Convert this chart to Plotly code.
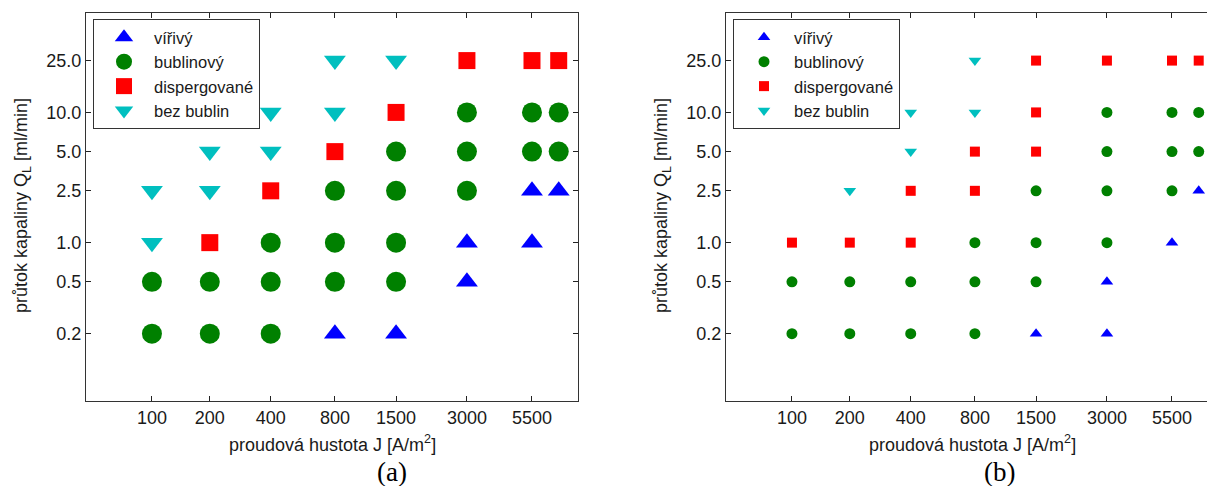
import numpy as np
import plotly.graph_objects as go

# ---------------- data ----------------
J_TICKS = [100, 200, 400, 800, 1500, 3000, 5500]
J_TICK_TEXT = ["100", "200", "400", "800", "1500", "3000", "5500"]
Q_TICKS = [0.2, 0.5, 1.0, 2.5, 5.0, 10.0, 25.0]
Q_TICK_TEXT = ["0.2", "0.5", "1.0", "2.5", "5.0", "10.0", "25.0"]

NAMES = ["vířivý", "bublinový", "dispergované", "bez bublin"]

# panel (a)
A_VIR_J = [800, 1500, 3000, 3000, 5500, 5500, 7000]
A_VIR_Q = [0.2, 0.2, 0.5, 1.0, 1.0, 2.5, 2.5]
A_BUB_J = [100, 100, 200, 200, 400, 400, 400, 800, 800, 800, 1500, 1500, 1500, 1500,
           3000, 3000, 3000, 5500, 5500, 7000, 7000]
A_BUB_Q = [0.2, 0.5, 0.2, 0.5, 0.2, 0.5, 1.0, 0.5, 1.0, 2.5, 0.5, 1.0, 2.5, 5.0,
           2.5, 5.0, 10.0, 5.0, 10.0, 5.0, 10.0]
A_DIS_J = [200, 400, 800, 1500, 3000, 5500, 7000]
A_DIS_Q = [1.0, 2.5, 5.0, 10.0, 25.0, 25.0, 25.0]
A_BEZ_J = [100, 100, 200, 200, 400, 400, 800, 800, 1500]
A_BEZ_Q = [1.0, 2.5, 2.5, 5.0, 5.0, 10.0, 10.0, 25.0, 25.0]

# panel (b)
B_VIR_J = [1500, 3000, 3000, 5500, 7000]
B_VIR_Q = [0.2, 0.2, 0.5, 1.0, 2.5]
B_BUB_J = [100, 100, 200, 200, 400, 400, 800, 800, 800, 1500, 1500, 1500,
           3000, 3000, 3000, 3000, 5500, 5500, 5500, 7000, 7000]
B_BUB_Q = [0.2, 0.5, 0.2, 0.5, 0.2, 0.5, 0.2, 0.5, 1.0, 0.5, 1.0, 2.5,
           1.0, 2.5, 5.0, 10.0, 2.5, 5.0, 10.0, 5.0, 10.0]
B_DIS_J = [100, 200, 400, 400, 800, 800, 1500, 1500, 1500, 3000, 5500, 7000]
B_DIS_Q = [1.0, 1.0, 1.0, 2.5, 2.5, 5.0, 5.0, 10.0, 25.0, 25.0, 25.0, 25.0]
B_BEZ_J = [200, 400, 400, 800, 800]
B_BEZ_Q = [2.5, 5.0, 10.0, 10.0, 25.0]

# ---------------- styling ----------------
P = 0.075  # x-scale power transform


def xs(j):
    return np.power(np.asarray(j, dtype=float), P)


COLORS = ["#0000FF", "#008000", "#FF0000", "#00BFBF"]
SYMBOLS = ["triangle-up", "circle", "square", "triangle-down"]
SIZES_A = [19, 20, 17, 19]
SIZES_B = [11, 11, 10, 11]
FONT = "Liberation Sans, Arial, sans-serif"
TXT = "#1a1a1a"

W, H = 1207, 486


def px(xw):
    return xw / W


def py(yw):
    return (H - yw) / H


fig = go.Figure()

panels = [
    ("x", "y", "legend", SIZES_A,
     [(A_VIR_J, A_VIR_Q), (A_BUB_J, A_BUB_Q), (A_DIS_J, A_DIS_Q), (A_BEZ_J, A_BEZ_Q)]),
    ("x2", "y2", "legend2", SIZES_B,
     [(B_VIR_J, B_VIR_Q), (B_BUB_J, B_BUB_Q), (B_DIS_J, B_DIS_Q), (B_BEZ_J, B_BEZ_Q)]),
]
for xa, ya, leg, sizes, series in panels:
    for i, (jj, qq) in enumerate(series):
        fig.add_trace(go.Scatter(
            x=xs(jj), y=qq, mode="markers", name=NAMES[i],
            xaxis=xa, yaxis=ya, legend=leg,
            marker=dict(symbol=SYMBOLS[i], color=COLORS[i], size=sizes[i],
                        line=dict(width=0)),
            cliponaxis=False,
        ))

ydom = [py(401), py(13)]
xdomA = [px(86), px(578)]
xdomB = [px(726), 1.0]

axis_common = dict(ticks="inside", ticklen=5, tickcolor="#222", linecolor="#333",
                   linewidth=1, showline=True, showgrid=False, zeroline=False,
                   tickfont=dict(family=FONT, size=18, color=TXT))

legend_common = dict(xanchor="left", yanchor="top", bgcolor="white",
                     bordercolor="#333", borderwidth=1,
                     font=dict(family=FONT, size=16.5, color=TXT), itemwidth=50,
                     tracegroupgap=0)

fig.update_layout(
    width=W, height=H, margin=dict(l=0, r=0, t=0, b=0),
    paper_bgcolor="white", plot_bgcolor="white",
    xaxis=dict(domain=xdomA, anchor="y", range=list(xs([43.3, 8309])),
               tickvals=list(xs(J_TICKS)), ticktext=J_TICK_TEXT, mirror="ticks",
               **axis_common),
    yaxis=dict(domain=ydom, anchor="x", type="log",
               range=[np.log10(0.0608), np.log10(58.0)],
               tickvals=Q_TICKS, ticktext=Q_TICK_TEXT, mirror="ticks", **axis_common),
    xaxis2=dict(domain=xdomB, anchor="y2", range=list(xs([43.3, 7537])),
                tickvals=list(xs(J_TICKS)), ticktext=J_TICK_TEXT, mirror="ticks",
                **axis_common),
    yaxis2=dict(domain=ydom, anchor="x2", type="log",
                range=[np.log10(0.0608), np.log10(58.0)],
                tickvals=Q_TICKS, ticktext=Q_TICK_TEXT, mirror=False, **axis_common),
    legend=dict(x=px(93), y=py(19), **legend_common),
    legend2=dict(x=px(733), y=py(19), **legend_common),
    showlegend=True,
)

ann = []
for off, cap, capx in [(0, "(a)", 392), (640, "(b)", 999)]:
    ann.append(dict(text="proudová hustota J [A/m<sup>2</sup>]", x=px(332 + off),
                    y=py(443), xref="paper", yref="paper", showarrow=False,
                    xanchor="center", yanchor="middle",
                    font=dict(family=FONT, size=18, color=TXT)))
    ann.append(dict(text="průtok kapaliny Q<sub>L</sub> [ml/min]", x=px(23 + off),
                    y=py(206), xref="paper", yref="paper", showarrow=False,
                    textangle=-90, xanchor="center", yanchor="middle",
                    font=dict(family=FONT, size=18, color=TXT)))
    ann.append(dict(text=cap, x=px(capx), y=py(472), xref="paper", yref="paper",
                    showarrow=False, xanchor="center", yanchor="middle",
                    font=dict(family="Liberation Serif, Times New Roman, serif",
                              size=27, color="black")))
fig.update_layout(annotations=ann)

fig.write_html(
    "out.html",
    config={"displayModeBar": False},
    post_script="document.body.style.margin='0';document.body.style.overflow='hidden';",
)
